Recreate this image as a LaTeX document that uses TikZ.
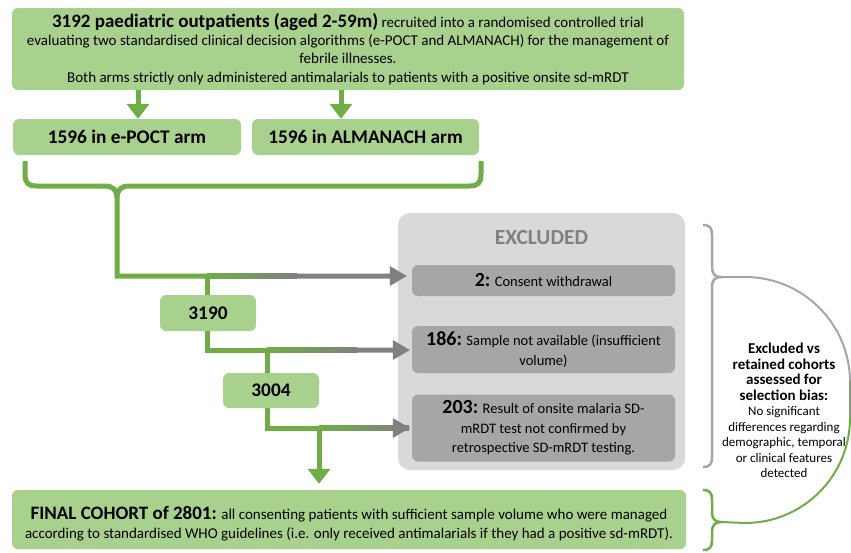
\documentclass[tikz,border=0pt]{standalone}
\usepackage{fontspec}
\setmainfont{Carlito}
\usetikzlibrary{arrows.meta,calc}
\definecolor{boxgreen}{HTML}{A9D18E}
\definecolor{linegreen}{HTML}{70AD47}
\definecolor{exgrey}{HTML}{D9D9D9}
\definecolor{ingrey}{HTML}{A6A6A6}
\definecolor{arrgrey}{HTML}{808080}
\definecolor{bracegrey}{HTML}{A6A6A6}
\definecolor{midgrey}{HTML}{8A9A80}
\newcommand\nbf{\fontsize{20}{19}\selectfont\bfseries}
\newcommand\bigbf{\fontsize{19}{19}\selectfont\bfseries}
\newcommand\bbf{\fontsize{15}{18}\selectfont\bfseries}
\newcommand\sbf{\fontsize{13}{15.5}\selectfont\mdseries}
\newcommand\gradarr[3]{%
  \shade[left color=linegreen,right color=arrgrey] let \p1=(#1) in
    (\x1,\y1-2.5pt) rectangle (\x1+90pt,\y1+2.5pt);
  \fill[arrgrey] let \p1=(#1), \p2=(#2) in
    (\x1+89pt,\y1-2.5pt) rectangle (\x2-#3-16pt,\y1+2.5pt)
    (\x2-#3,\y1) -- (\x2-#3-17pt,\y1-10pt) -- (\x2-#3-17pt,\y1+10pt) -- cycle;
}
\begin{document}
\begin{tikzpicture}[x=1pt,y=-1pt,
  gbox/.style={fill=boxgreen, rounded corners=6pt, inner sep=0pt, align=center, text=black},
  xbox/.style={fill=ingrey, rounded corners=6pt, inner sep=0pt, align=center, text=black,
     minimum width=263pt, font=\fontsize{14.5}{19.5}\selectfont},
  gline/.style={draw=linegreen, line width=5pt},
  garrow/.style={draw=linegreen, line width=5pt, -{Triangle[length=15pt,width=22pt]}},
  bnum/.style={font=\fontsize{19.3}{22}\selectfont\bfseries}
]
\useasboundingbox (0,0) rectangle (851,552);

% boxes
\node[gbox, minimum width=672pt, minimum height=82pt, font=\fontsize{15}{18.2}\selectfont] (top) at (348,49)
 {{\bigbf 3192 paediatric outpatients (aged 2-59m)} recruited into a randomised controlled trial\\
  evaluating two standardised clinical decision algorithms (e-POCT and ALMANACH) for the management of\\
  febrile illnesses.\\
  Both arms strictly only administered antimalarials to patients with a positive onsite sd-mRDT};
\node[gbox, minimum width=228pt, minimum height=36pt, bnum] (epoct) at (127,137) {1596 in e-POCT arm};
\node[gbox, minimum width=227pt, minimum height=36pt, bnum] (alma) at (365.5,137) {1596 in ALMANACH arm};
\node[gbox, minimum width=96pt, minimum height=36pt, bnum] (n3190) at (208,313) {3190};
\node[gbox, minimum width=96pt, minimum height=35pt, bnum] (n3004) at (271,390.5) {3004};

\node[fill=exgrey, rounded corners=12pt, minimum width=287pt, minimum height=257pt] (excl) at (541.5,341.5) {};
\node[text=arrgrey, font=\fontsize{21.5}{24}\selectfont\bfseries] (exclt) at (541.5,238) {EXCLUDED};
\node[xbox, minimum height=31pt] (ex1) at (543.5,280.5) {{\nbf 2:} Consent withdrawal};
\node[xbox, minimum height=47pt] (ex2) at (543.5,349.5) {{\nbf 186:} Sample not available (insufficient\\volume)};
\node[xbox, minimum height=67pt] (ex3) at (543.5,428) {{\nbf 203:} Result of onsite malaria SD-\\mRDT test not confirmed by\\retrospective SD-mRDT testing.};

\node[gbox, minimum width=674pt, minimum height=59pt] (final) at (349,519.5) {};
\node[align=center, inner sep=0pt, font=\fontsize{15}{19}\selectfont] (finaltext) at (349,523.5)
 {{\bigbf FINAL COHORT of 2801:} all consenting patients with sufficient sample volume who were managed\\
  according to standardised WHO guidelines (i.e. only received antimalarials if they had a positive sd-mRDT).};

% arrows from top box
\coordinate (ax1) at (138,0);
\coordinate (ax2) at (341,0);
\draw[garrow] (top.south -| ax1) -- (epoct.north -| ax1);
\draw[garrow] (top.south -| ax2) -- (alma.north -| ax2);

% brace under the two arms
\coordinate (b1) at (207,276);
\coordinate (b2) at (267,350);
\coordinate (b3) at (319,428);
\draw[gline] (25,161) -- (25,174) .. controls (25,183) and (28,186) .. (37,186) -- (105,186)
   .. controls (113,186) and (117,190) .. (117,198) -- (117,276) -- (b1);
\draw[gline] (481,161) -- (481,174) .. controls (481,183) and (478,186) .. (469,186) -- (129,186)
   .. controls (121,186) and (117,190) .. (117,198);

% flow down
\draw[gline] (b1) -- (b1 |- n3190.north);
\draw[gline] (n3190.south -| b1) -- (b1 |- b2) -- (b2);
\draw[gline] (b2) -- (b2 |- n3004.north);
\draw[gline] (n3004.south -| b2) -- (b2 |- b3) -- (b3);
\draw[garrow, shorten >=6pt] (b3) -- (b3 |- final.north);

% gradient arrows to excluded boxes
\gradarr{b1}{ex1.west}{5pt}
\gradarr{b2}{ex2.west}{2pt}
\gradarr{b3}{ex3.west}{2pt}

% right braces and arc
\coordinate (gtip) at (721,277);
\coordinate (ftip) at (721,522);
\draw[bracegrey, line width=2.5pt] (703,225) .. controls (710,225) and (712,228) .. (712,235) -- (712,267)
   .. controls (712,274) and (715,277) .. (gtip)
   .. controls (715,277) and (712,280) .. (712,287) -- (712,457)
   .. controls (712,464) and (710,467) .. (703,467);
\draw[linegreen, line width=2.5pt] (703,490) .. controls (710,490) and (712,493) .. (712,500) -- (712,512)
   .. controls (712,519) and (715,522) .. (ftip)
   .. controls (715,522) and (712,525) .. (712,532) -- (712,540)
   .. controls (712,547) and (710,550) .. (703,550);
\draw[bracegrey, line width=2pt] (gtip) -- (745,277) .. controls (803,277) and (850,324) .. (850,382);
\draw[midgrey, line width=2pt] (850,381) -- (850,419);
\draw[linegreen, line width=2pt] (850,418) .. controls (850,476) and (803,523) .. (745,523) -- (ftip);

\node[align=center, font=\sbf] (bias) at (784,410.5)
 {\bbf Excluded vs\\ \bbf retained cohorts\\ \bbf assessed for\\ \bbf selection bias:\\
  \sbf No significant\\ differences regarding\\ demographic, temporal\\ or clinical features\\ detected};
\end{tikzpicture}
\end{document}
